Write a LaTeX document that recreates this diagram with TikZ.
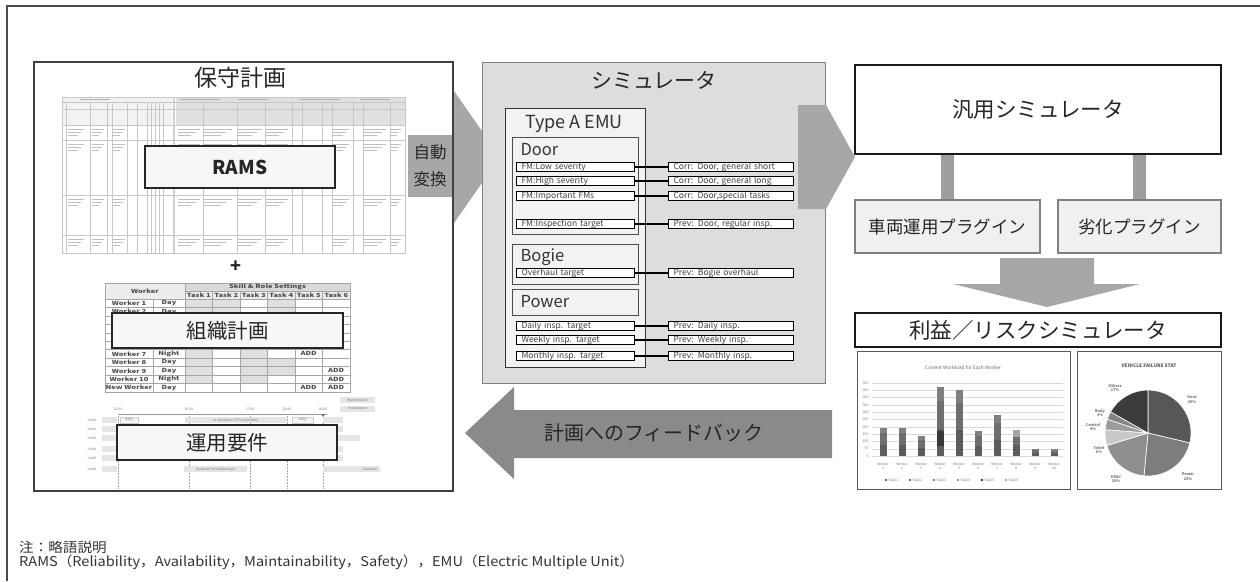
\documentclass[tikz,border=0pt]{standalone}
\usepackage{fontspec}
\setmainfont{Noto Sans CJK JP}
\usetikzlibrary{positioning}

\newcommand\fsz[1]{\fontsize{#1}{#1}\selectfont}
\newcommand\wider[1]{\scalebox{1.35}[1]{#1}}

\definecolor{panelgray}{HTML}{DCDDDD}
\definecolor{arrowgray}{HTML}{A7A7A7}
\definecolor{backgray}{HTML}{8A8A8A}
\definecolor{bargray}{HTML}{9E9E9E}

\tikzset{
      frameline/.style={draw=black!70, line width=1.2},
      planpanel/.style={draw=black!75, line width=1.5, anchor=north west, inner sep=0},
      planlabel/.style={draw=black!85, line width=1.4, fill=black!3, inner sep=0, text=black!85},
      sheet/.style={draw=black!22, line width=0.5},
      scribble/.style={draw=black!25, line width=0.9},
      simpanel/.style={draw=black!50, line width=1.2, fill=panelgray, anchor=north west, inner sep=0},
      emubox/.style={draw=black!80, line width=1.2, fill=black!5, anchor=north west, inner sep=0},
      partbox/.style={draw=black!70, line width=1.2, fill=black!5, anchor=north west, inner sep=0},
      fmitem/.style={draw=black, line width=1.1, fill=white, anchor=west, minimum width=118,
            inner xsep=5, inner ysep=0.4, text width=108, align=left, text height=6.2, text depth=1.8,
            font=\fsz{8.5}, text=black!75},
      taskitem/.style={fmitem, minimum width=125, text width=115},
      fmlink/.style={draw=black, line width=1.5},
      gensim/.style={draw=black!90, line width=2, fill=white, inner sep=0, text=black!85},
      plugin/.style={draw=black!50, line width=1.5, fill=black!6, inner sep=0, font=\fsz{17.5}, text=black!85},
      plugbar/.style={draw=bargray, line width=13},
      chartbox/.style={draw=black!65, line width=1.2, fill=white, anchor=north west, inner sep=0},
      minitext/.style={font=\fontsize{3.4}{4.4}\selectfont, text=black!55, inner sep=0.3},
      cellbold/.style={font=\fsz{5.6}\bfseries, text=black!70, inner sep=0},
      notetext/.style={anchor=west, font=\fsz{13.5}, text=black!80, inner sep=0},
}

\begin{document}
\begin{tikzpicture}[x=1pt, y=-1pt]
        \useasboundingbox (0,0) rectangle (1260,581);

        % Outer frame
        \draw[frameline] (7,581) -- (7,6) -- (1260,6);

        % Maintenance plan: RAMS sheet
        \node[font=\fsz{23}, text=black!85] (plantitle) at (240,78) {保守計画};
        \fill[black!5] (62,97) rectangle (172,125);
        \fill[black!12] (176,97) rectangle (405,125);
        \draw[sheet] (62,97) rectangle (405,253);
        \draw[sheet, line width=1.5, draw=black!18] (174,97) -- (174,253);
        \foreach \y in {102,109,125,140,195,235} \draw[sheet] (62,\y) -- (405,\y);
        \foreach \x in {66,90,107,112,127,137,147,151,155,159,163} \draw[sheet] (\x,102) -- (\x,253);
        \foreach \x in {203,237,265,292,302,322,332,353,363,390} \draw[sheet] (\x,102) -- (\x,253);
        \draw[sheet, line width=1] (62,125) -- (405,125);
        \foreach \cx/\cw in {68/16,92/12,113/12,178/22,204/28,238/24,266/22,333/16,364/22,391/10}
            \foreach \ry in {129,144,199,239}
                {
                \draw[scribble] (\cx,\ry) -- ++(\cw,0);
                \draw[scribble] (\cx,\ry+3) -- ++(0.8*\cw,0);
                \draw[scribble] (\cx,\ry+6) -- ++(0.6*\cw,0);
                }
        \foreach \cx/\cw in {80/30,180/40,238/30,300/40,360/30} \draw[scribble, draw=black!30] (\cx,99.5) -- ++(\cw,0);
        \node[planlabel, minimum width=190, minimum height=42, font=\fsz{19}\bfseries] (rams) at (240,167) {RAMS};

        \node[font=\fsz{18}\bfseries, text=black!85] (plus) at (236,267) {+};

        % Worker skill table
        \fill[black!7] (105,283) rectangle (185,299);
        \fill[black!15] (185,283) rectangle (350,291);
        \fill[black!8] (185,291) rectangle (350,299);
        \foreach \r/\cols in {1/{1,2,4},2/{1,2,4},3/{1,3},4/{1,3},5/{1,3},6/{1,3},7/{1,3},8/{1,3,4},9/{1,3,4},10/{1,3},11/{}}
            \foreach \c in \cols
                \fill[black!12] ({185+27.5*(\c-1)},{299+8.45*(\r-1)}) rectangle ({212.5+27.5*(\c-1)},{299+8.45*\r});
        \draw[sheet, draw=black!35] (105,283) rectangle (350,392);
        \draw[sheet, draw=black!35] (185,291) -- (350,291);
        \foreach \x in {185,212.5,240,267.5,295,322.5} \draw[sheet, draw=black!35] (\x,{\x==185 ? 283 : 291}) -- (\x,392);
        \draw[sheet, draw=black!35] (153,299) -- (153,392);
        \foreach \r in {0,...,10} \draw[sheet, draw=black!35] (105,{299+8.45*\r}) -- (350,{299+8.45*\r});
        \node[cellbold] (workerhead) at (145,291) {\wider{Worker}};
        \node[cellbold] (skillhead) at (267.5,287) {\wider{Skill \& Role Settings}};
        \foreach \c in {1,...,6} \node[cellbold] at ({198.75+27.5*(\c-1)},295) {\wider{Task \c}};
        \foreach \r/\who/\shift in {1/Worker 1/Day,2/Worker 2/Day,3/Worker 3/Day,4/Worker 4/Night,5/Worker 5/Day,
                6/Worker 6/Night,7/Worker 7/Night,8/Worker 8/Day,9/Worker 9/Day,10/Worker 10/Night,11/New Worker/Day}
            {
            \node[cellbold] at (129,{303.2+8.45*(\r-1)}) {\wider{\who}};
            \node[cellbold] at (169,{303.2+8.45*(\r-1)}) {\wider{\shift}};
            }
        \foreach \r/\c in {6/5,7/5,9/6,10/6,11/5,11/6} \node[cellbold] at ({198.75+27.5*(\c-1)},{303.2+8.45*(\r-1)}) {\wider{ADD}};
        \node[planlabel, minimum width=231, minimum height=35, font=\fsz{20.5}] (orgplan) at (227.5,330.5) {組織計画};

        % Operation timeline
        \node[minitext, fill=black!10, minimum width=35, minimum height=6] (legmaint) at (357.5,400) {Maintenance};
        \node[minitext, fill=black!10, minimum width=35, minimum height=6] (legoper) at (357.5,409) {In operation};
        \foreach \x/\t in {118/22:00,189/06:30,250/17:00,287/22:00,323/06:00} \node[minitext] at (\x,409) {\t};
        \draw[black!40, line width=0.6] (118,414) -- (327,414);
        \fill[black!55] (321,414) -- (325,414) -- (323,417) -- cycle;
        \foreach \x in {118,189,250,287,323} \draw[black!35, line width=0.5, dash pattern=on 1.5pt off 1.5pt] (\x,416) -- (\x,489);
        \foreach \u/\y in {1/420,2/429,3/438,4/449,5/458,6/469}
            {
            \node[minitext] at (92,\y) {Unit\u};
            \fill[black!10] (102,\y-3) rectangle (117,\y+3);
            }
        \foreach \y in {429,438,449,458} \fill[black!10] (323,\y-3) rectangle (343,\y+3);
        \fill[black!10] (343,435) rectangle (360,441);
        \node[minitext, draw=black!20, fill=black!4, minimum width=18, minimum height=6] (daily1) at (129,420) {daily};
        \node[minitext, fill=black!10, minimum width=102, minimum height=6] (inoper) at (236,420) {In operation (17hrs/1000km)};
        \node[minitext, draw=black!20, fill=black!4, minimum width=21, minimum height=6] (daily2) at (302.5,420) {daily};
        \fill[black!10] (323,417) rectangle (343,423);
        \node[minitext, fill=black!10, minimum width=63, minimum height=6] (ohmulti) at (215.5,469) {Overhaul (multiple days)};
        \node[minitext, fill=black!10, minimum width=57, minimum height=6, text width=51, align=right] (ohend) at (351.5,469) {Overhaul};
        \node[planlabel, minimum width=220, minimum height=35, font=\fsz{20.5}] (opsreq) at (227,442.5) {運用要件};

        % Automatic conversion arrow
        \node[fill=arrowgray, minimum width=45, minimum height=62, inner sep=0, align=center,
              font=\fontsize{16.5}{27}\selectfont, text=black!85] (autoconv) at (430,166) {自動\\変換};
        \fill[arrowgray] (452,88) -- (500,157) -- (452,226) -- cycle;
        \node[planpanel, minimum width=419, minimum height=429] (plan) at (33,61) {};

        % Simulator panel
        \node[simpanel, minimum width=343, minimum height=321] (sim) at (482,62) {};
        \node[font=\fsz{21}, text=black!85] (simtitle) at (654,80) {シミュレータ};
        \node[emubox, minimum width=140, minimum height=259] (emu) at (505,108) {};
        \node[font=\fsz{18}, text=black!80] (emutitle) at (574,124) {Type A EMU};
        \node[partbox, minimum width=126, minimum height=97] (door) at (512,137) {};
        \node[partbox, minimum width=126, minimum height=40] (bogie) at (512,244) {};
        \node[partbox, minimum width=126, minimum height=26] (power) at (512,289) {};
        \node[font=\fsz{16.5}, text=black!80, anchor=west] (doorname) at (517,150) {Door};
        \node[font=\fsz{16.5}, text=black!80, anchor=west] (bogiename) at (517,257) {Bogie};
        \node[font=\fsz{16.5}, text=black!80, anchor=west] (powername) at (517,302) {Power};

        % Failure modes and their tasks
        \foreach \n/\y/\fm/\task in {d1/167/FM:Low severity/{Corr: Door, general short},
                d2/181/FM:High severity/{Corr: Door, general long},
                d3/196/FM:Important FMs/{Corr: Door,special tasks},
                d4/224/FM:Inspection target/{Prev: Door, regular insp.},
                b1/273/Overhaul target/{Prev: Bogie overhaul},
                p1/326/Daily insp. target/{Prev: Daily insp.},
                p2/340/Weekly insp. target/{Prev: Weekly insp.},
                p3/356/Monthly insp. target/{Prev: Monthly insp.}}
            {
            \node[fmitem] (fm\n) at (516,\y) {\fm};
            \node[taskitem] (task\n) at (668,\y) {\task};
            \draw[fmlink] (fm\n.east) -- (task\n.west);
            }

        % Arrow to the general simulator
        \fill[arrowgray] (798,105) -- (826,105) -- (855,157) -- (826,209) -- (798,209) -- cycle;

        % Feedback arrow
        \fill[backgray] (832,410) -- (514,410) -- (514,387) -- (465,433) -- (514,479) -- (514,458) -- (832,458) -- cycle;
        \node[font=\fsz{20}, text=black!85] (feedback) at (654,433) {計画へのフィードバック};

        % General simulator and plugins
        \node[gensim, minimum width=366, minimum height=89, font=\fsz{21.5}] (gensim) at (1038,109.5) {汎用シミュレータ};
        \node[plugin, minimum width=185, minimum height=53] (opsplug) at (947.5,226.5) {車両運用プラグイン};
        \node[plugin, minimum width=163, minimum height=53] (wearplug) at (1139.5,226.5) {劣化プラグイン};
        \draw[plugbar] (opsplug.north) -- (opsplug.north |- gensim.south);
        \draw[plugbar] (wearplug.north) -- (wearplug.north |- gensim.south);
        \fill[arrowgray] (1000,258) -- (1094,258) -- (1094,284) -- (1140,284) -- (1047,307) -- (953,284) -- (1000,284) -- cycle;
        \node[gensim, minimum width=366, minimum height=34, font=\fsz{21.5}] (risksim) at (1038,330) {利益／リスクシミュレータ};

        % Workload bar chart
        \node[chartbox, minimum width=213, minimum height=138] (barchart) at (857,351) {};
        \node[font=\fsz{4.8}, text=black!60] (bartitle) at (963,368) {Current Workload for Each Worker};
        \foreach \v in {0,50,...,500}
            {
            \draw[black!15, line width=0.4] (872,{456-0.146*\v}) -- (1063,{456-0.146*\v});
            \node[minitext, anchor=east] at (869,{456-0.146*\v}) {\v};
            }
        \foreach \i/\h in {1/195,2/195,3/135,4/470,5/450,6/170,7/280,8/180,9/50,10/45}
            {
            \pgfmathsetmacro\bx{883+19*(\i-1)}
            \fill[black!64] (\bx-3.5,456) rectangle (\bx+3.5,{456-0.146*0.4*\h});
            \fill[black!57] (\bx-3.5,{456-0.146*0.4*\h}) rectangle (\bx+3.5,{456-0.146*0.8*\h});
            \fill[black!50] (\bx-3.5,{456-0.146*0.8*\h}) rectangle (\bx+3.5,{456-0.146*\h});
            \node[minitext, align=center] at (\bx,466) {Worker\\\i};
            }
        \fill[black!78] (936.5,{456-0.146*70}) rectangle (943.5,{456-0.146*170});
        \fill[black!35] (1012.5,{456-0.146*130}) rectangle (1019.5,{456-0.146*180});
        \foreach \i/\c in {1/64,2/57,3/50,4/40,5/78,6/35}
            {
            \fill[black!\c] ({885+24*(\i-1)},478.8) rectangle ++(2.4,2.4);
            \node[minitext, anchor=west] at ({888+24*(\i-1)},480) {Task \i};
            }

        % Failure pie chart
        \node[chartbox, minimum width=144, minimum height=138] (piechart) at (1077,351) {};
        \node[font=\fsz{4.8}\bfseries, text=black!65] (pietitle) at (1149,366) {VEHICLE FAILURE STAT};
        \begin{scope}[shift={(1148,433)}, yscale=-1]
            \foreach \a/\b/\c in {90/-13.4/66,-13.4/-95.4/51,-95.4/-163.1/44,-163.1/-184.5/21,-184.5/-198.8/39,-198.8/-209.5/48,-209.5/-270/77}
                \filldraw[fill=black!\c, draw=white, line width=0.6] (0,0) -- (\a:43) arc[start angle=\a, end angle=\b, radius=43] -- cycle;
        \end{scope}
        \foreach \x/\y/\t in {1115/388/{Others\\17\%},1192/400/{Door\\29\%},1100/413/{Body\\3\%},1093/427/{Control\\4\%},
                1099/450/{Toilet\\6\%},1116/479/{HVAC\\19\%},1188/477/{Power\\23\%}}
            \node[minitext, font=\fontsize{3.8}{4.8}\selectfont\bfseries, align=center] at (\x,\y) {\t};

        % Notes
        \node[notetext] (notehead) at (19,547) {\scalebox{1.08}[1]{注：略語説明}};
        \node[notetext] (notebody) at (19,562)
            {\scalebox{1.08}[1]{RAMS（Reliability，Availability，Maintainability，Safety），EMU（Electric Multiple Unit）}};

\end{tikzpicture}
\end{document}
